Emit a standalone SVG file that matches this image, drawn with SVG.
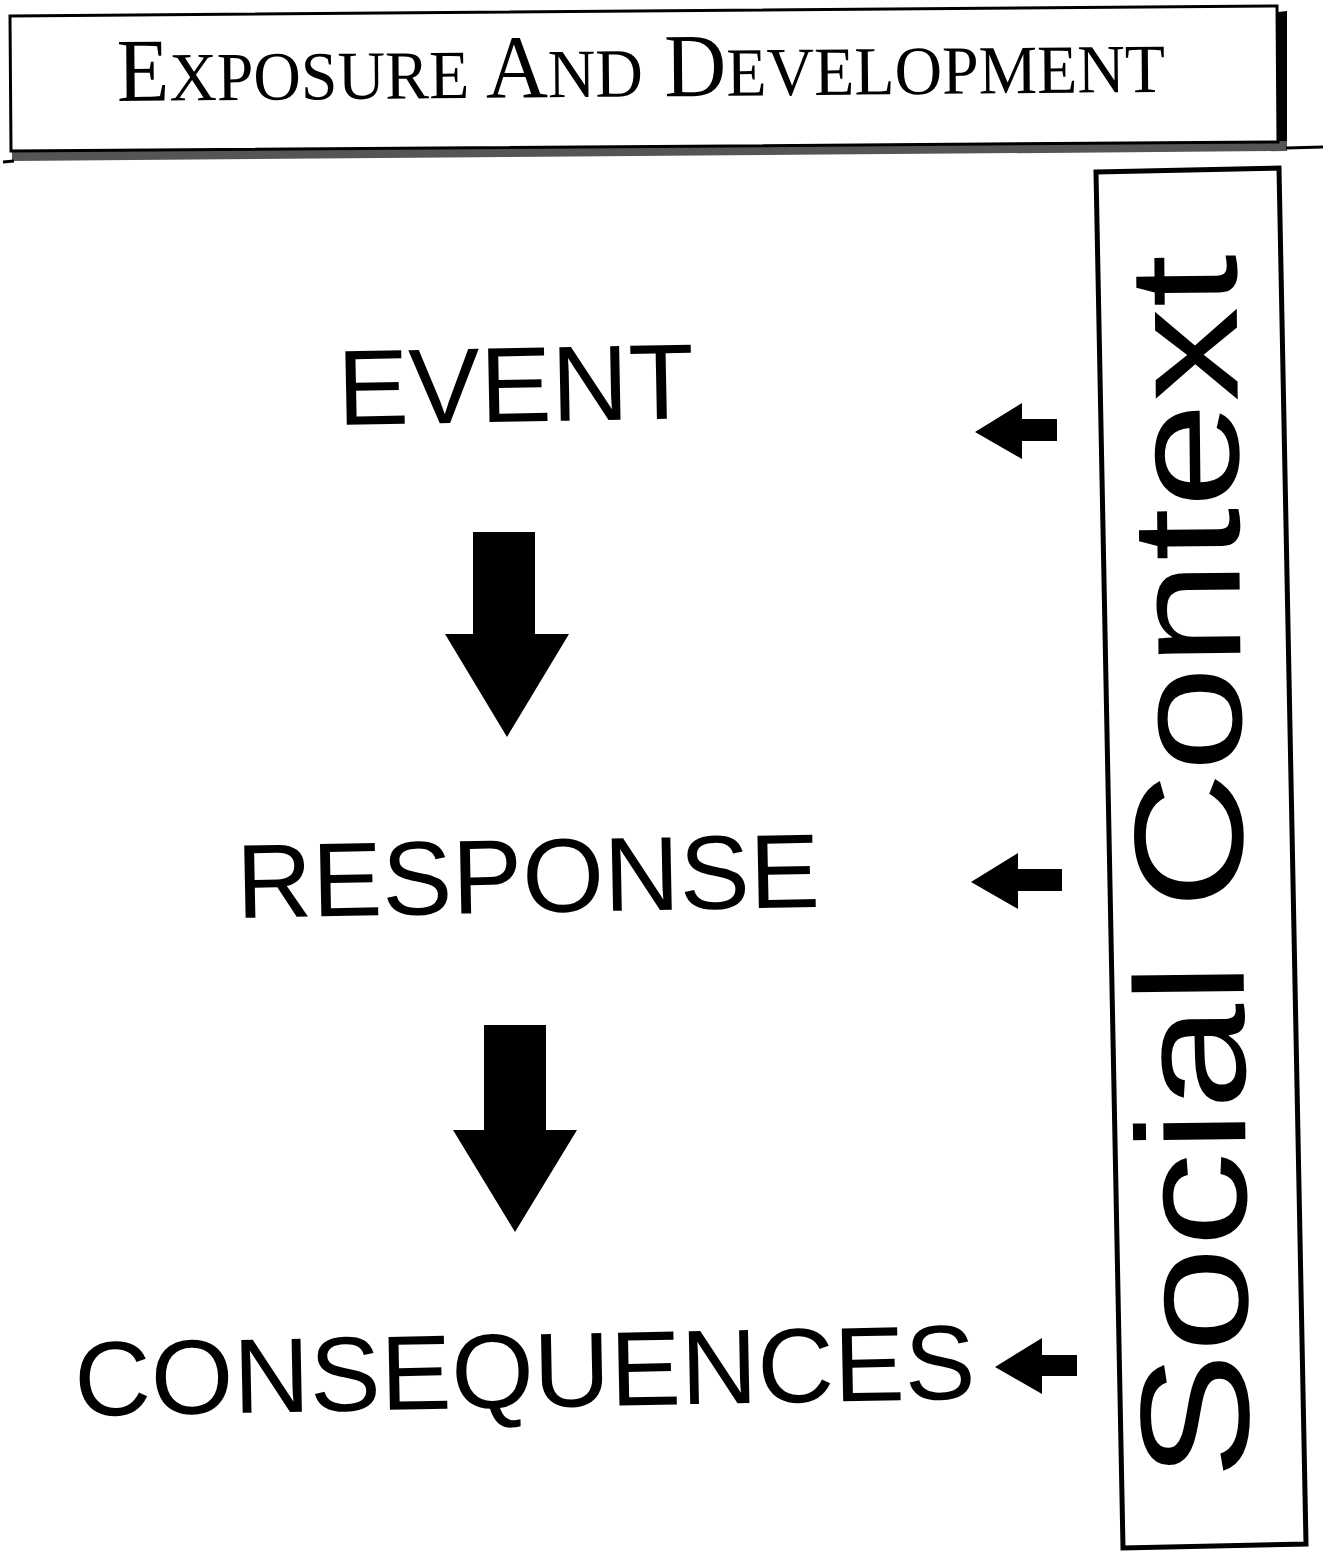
<svg xmlns="http://www.w3.org/2000/svg" width="1329" height="1552" viewBox="0 0 1329 1552">
<style>
.lbl{font-family:"Liberation Sans",Arial,sans-serif;fill:#000}
.ttl{font-family:"Liberation Serif","Times New Roman",serif;fill:#000}
.arr{fill:#000}
</style>
<rect width="1329" height="1552" fill="#fff"/>
<g id="title">
  <polygon points="1278,12 1287,11 1287,146 1278,147" fill="#000"/>
  <polygon points="12,151 1287,141 1287,151 12,161" fill="#555"/>
  <line x1="3" y1="162" x2="14" y2="161" stroke="#000" stroke-width="3"/>
  <line x1="1286" y1="148" x2="1323" y2="147" stroke="#000" stroke-width="3"/>
  <polygon points="10,16 1277,6 1278,142 11,151" fill="none" stroke="#000" stroke-width="3"/>
  <text class="ttl" x="0" y="0" transform="translate(117,101) rotate(-0.5) scale(0.954,1)"><tspan font-size="90">E</tspan><tspan font-size="69">XPOSURE</tspan><tspan font-size="90"> A</tspan><tspan font-size="69">ND</tspan><tspan font-size="90"> D</tspan><tspan font-size="69">EVELOPMENT</tspan></text>
</g>
<g id="social-context">
  <polygon points="1096,172 1279,168 1306,1544 1123,1548" fill="none" stroke="#000" stroke-width="5"/>
  <text class="lbl" font-size="155" x="0" y="0" textLength="1225" lengthAdjust="spacingAndGlyphs" transform="translate(1249,1479) rotate(-90.6)">Social Context</text>
</g>
<g id="event">
  <text class="lbl" font-size="107" x="338" y="425" transform="rotate(-1.1 338 425)">EVENT</text>
</g>
<g id="response">
  <text class="lbl" font-size="105" x="237" y="918" transform="rotate(-1.1 237 918)">RESPONSE</text>
</g>
<g id="consequences">
  <text class="lbl" font-size="106" x="75" y="1416" transform="rotate(-1.1 75 1416)">CONSEQUENCES</text>
</g>
<g id="connectors">
  <polygon class="arr" points="473,532 535,532 535,634 569,634 507,737 445,634 473,634"/>
  <polygon class="arr" points="484,1025 546,1025 546,1130 577,1130 515,1232 453,1130 484,1130"/>
  <polygon class="arr" points="975,432 1022,403 1022,419 1057,419 1057,441 1022,441 1022,459"/>
  <polygon class="arr" points="971,882 1018,853 1018,869 1062,869 1062,891 1018,891 1018,909"/>
  <polygon class="arr" points="995,1367 1042,1338 1042,1355 1077,1355 1077,1376 1042,1376 1042,1394"/>
</g>
</svg>
